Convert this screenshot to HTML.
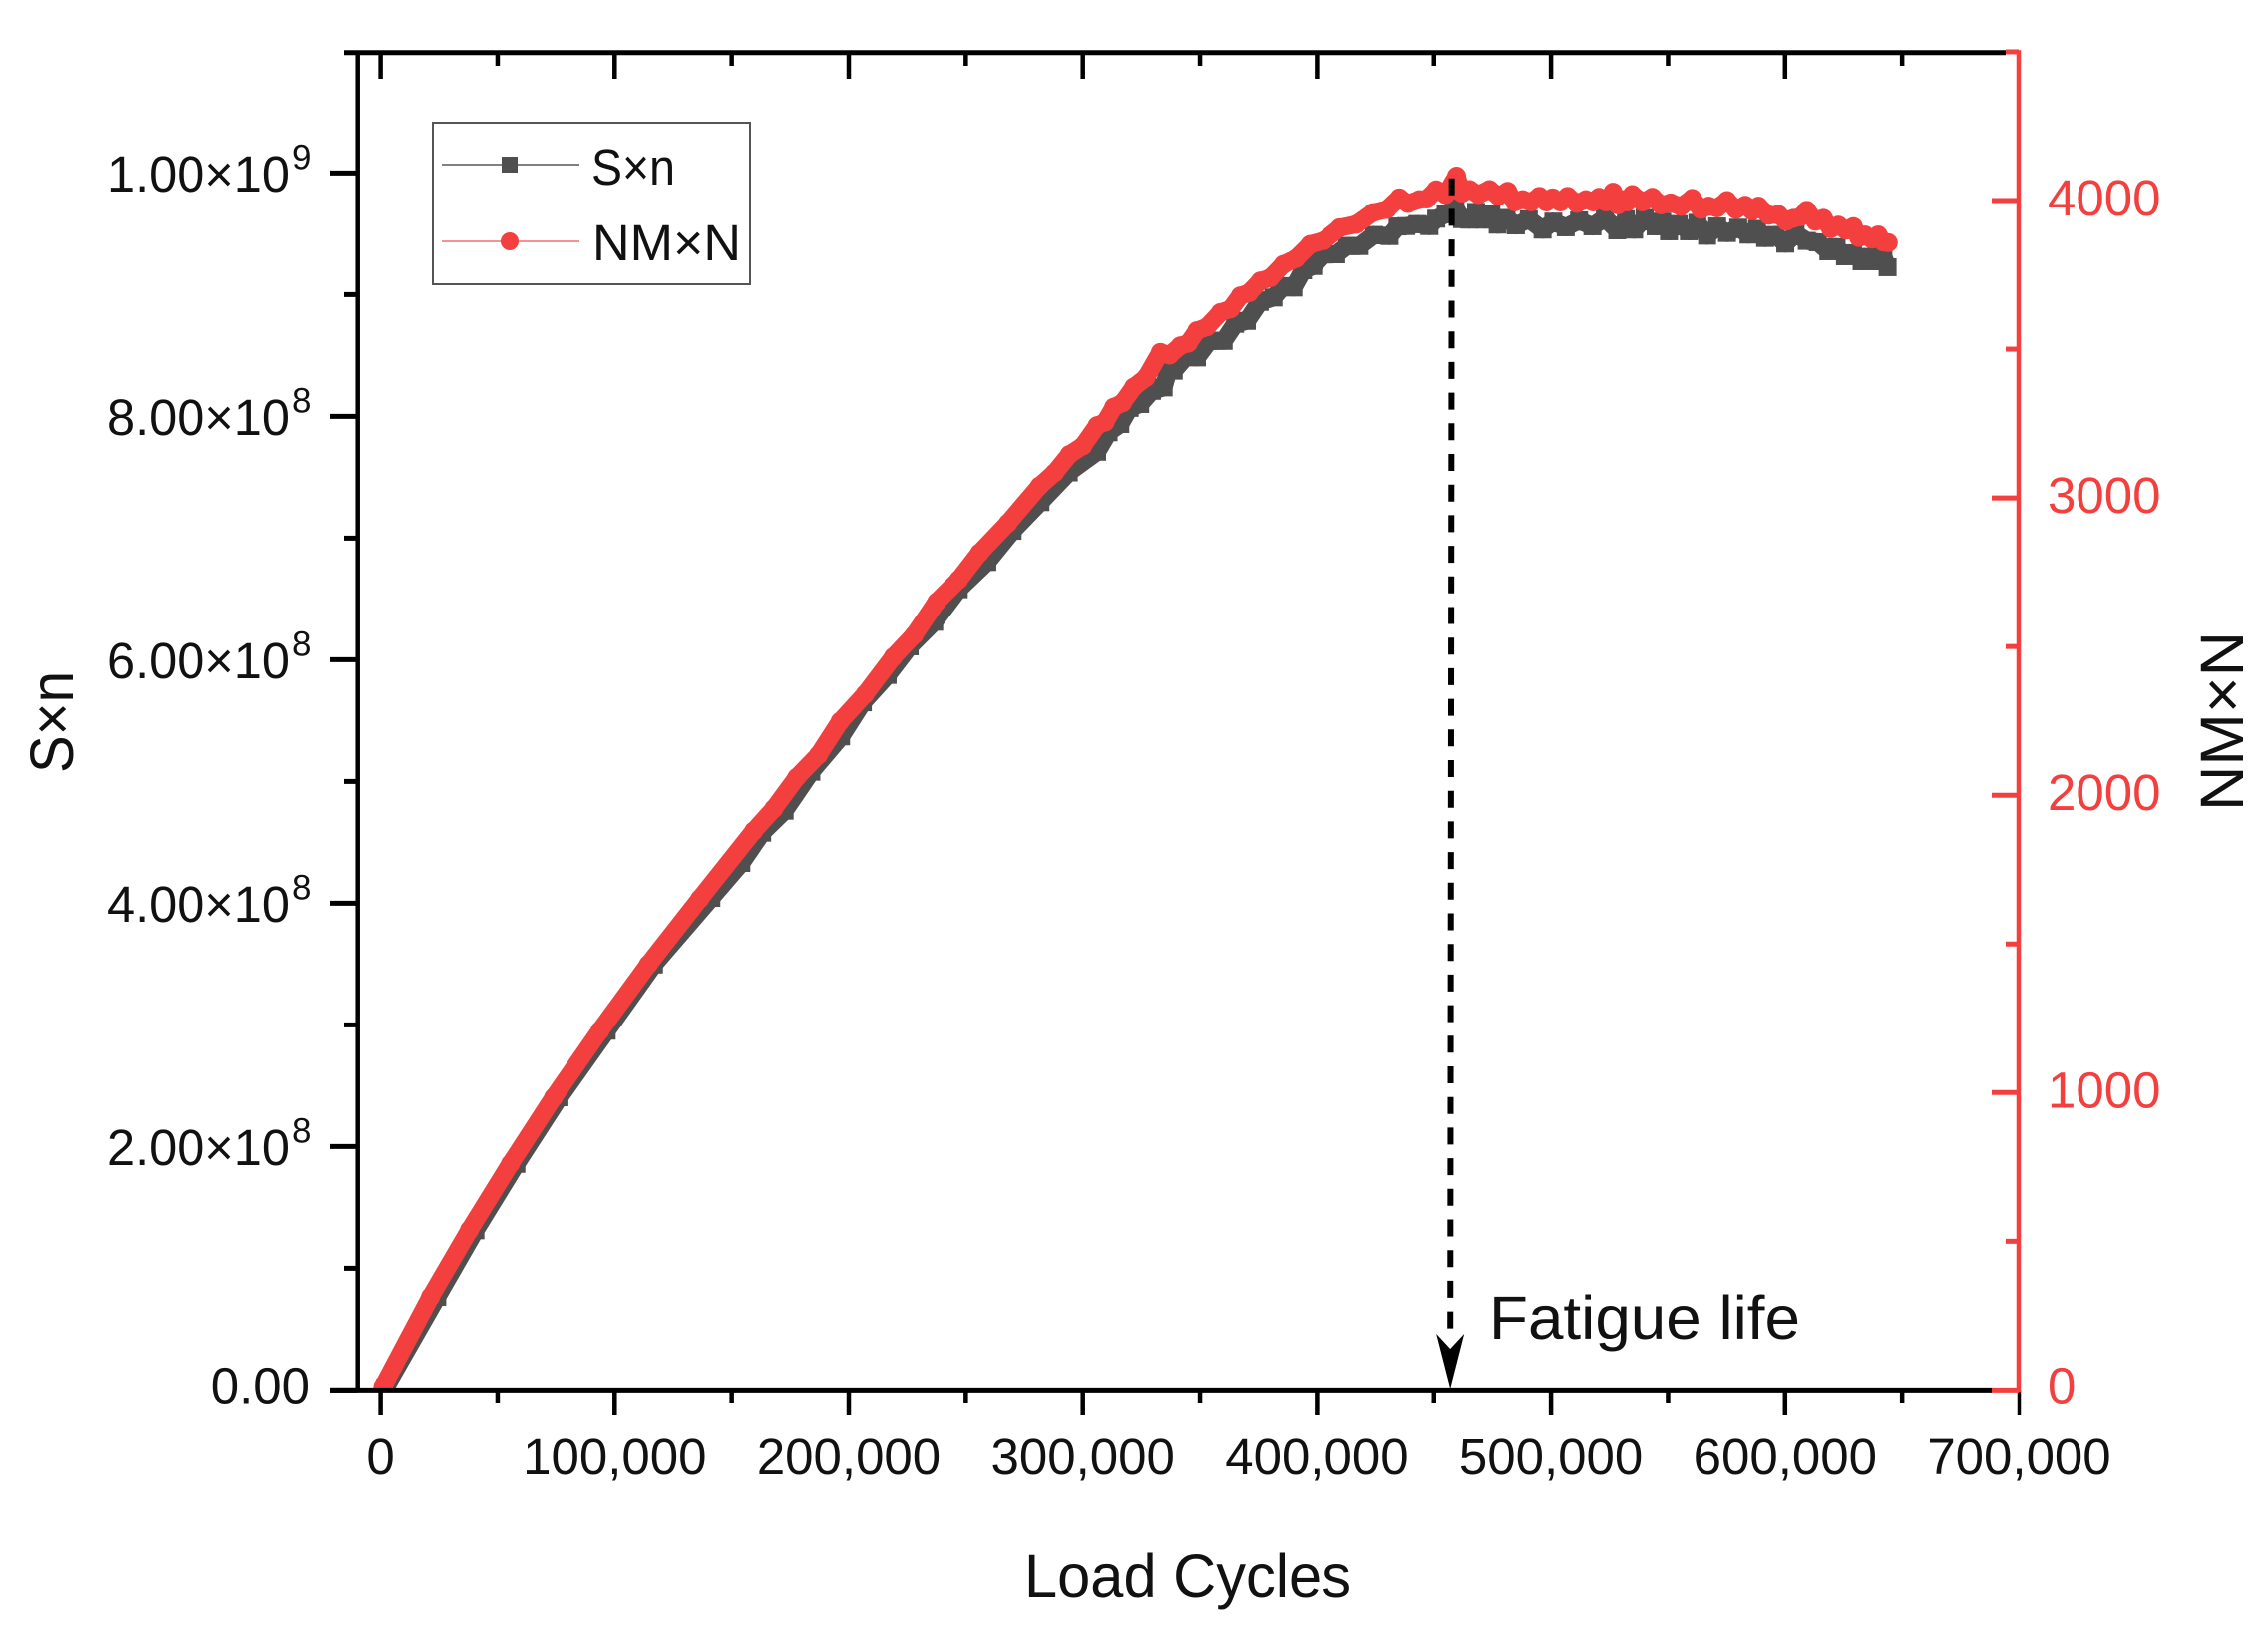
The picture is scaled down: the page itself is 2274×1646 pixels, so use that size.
<!DOCTYPE html>
<html lang="en">
<head>
<meta charset="utf-8">
<title>S×n and NM×N versus Load Cycles</title>
<style>
html,body{margin:0;padding:0;background:#fff;width:2274px;height:1646px;overflow:hidden}
svg{display:block}
text{font-family:"Liberation Sans",sans-serif;fill:#111}
</style>
</head>
<body>
<svg id="chart" xmlns="http://www.w3.org/2000/svg" width="2274" height="1646" viewBox="0 0 2274 1646">
  <defs>
    <clipPath id="plot-clip"><rect x="340" y="40" width="1700" height="1353"></rect></clipPath>
  </defs>
  <rect x="0" y="0" width="2274" height="1646" fill="#fff"></rect>
  <g id="series" clip-path="url(#plot-clip)"></g>
  <g id="annotation"></g>
  <g id="axes"></g>
  <g>
    <rect x="434" y="123" width="318" height="162" fill="#fff" stroke="#555" stroke-width="2"></rect>
    <line x1="443" x2="581" y1="165" y2="165" stroke="#808080" stroke-width="2"></line>
    <rect x="503" y="157" width="16" height="16" fill="#4f4f4f"></rect>
    <text x="593" y="185" font-size="51" textLength="84" lengthAdjust="spacingAndGlyphs">S×n</text>
    <line x1="443" x2="581" y1="242" y2="242" stroke="#f79090" stroke-width="2"></line>
    <circle cx="511" cy="242" r="9" fill="#f43f3f"></circle>
    <text x="594" y="261" font-size="51" textLength="149" lengthAdjust="spacingAndGlyphs">NM×N</text>
  </g>
  <text x="1027" y="1601" font-size="61" textLength="328" lengthAdjust="spacingAndGlyphs">Load Cycles</text>
  <text transform="translate(73,775) rotate(-90)" font-size="61" textLength="102" lengthAdjust="spacingAndGlyphs">S×n</text>
  <text transform="translate(2249,813) rotate(-90)" font-size="61" textLength="180" lengthAdjust="spacingAndGlyphs">NM×N</text>
  <text x="1493" y="1342" font-size="61" textLength="312" lengthAdjust="spacingAndGlyphs">Fatigue life</text>
</svg>
<script>
// ---- data ----
const sxnCycles = [2000,24200,40500,58000,76400,96600,116800,141300,154100,163000,172600,184000,196700,206000,216600,226000,236500,247000,259200,270000,281900,294000,306100,311000,316000,320000,324500,329500,334500,336500,338800,344000,348700,354000,360100,365000,370000,375500,381400,385500,389900,394000,398400,403000,408300,413000,418300,424500,431100,434500,438200,443000,448100,451000,455000,459200,462000,465200,468000,471600,474500,477200,481000,485000,490500,496400,501000,506300,512000,517700,523000,528300,532000,535500,540000,544700,547500,550400,554500,558900,562500,566700,571000,575200,580000,584400,588000,591500,596000,600100,604500,609300,614000,618500,622000,625600,629000,632700,636000,639800,642000,643800];
const sxnValues = [0.02e8,0.766e8,1.312e8,1.858e8,2.405e8,2.952e8,3.497e8,4.044e8,4.331e8,4.58e8,4.76e8,5.08e8,5.37e8,5.65e8,5.875e8,6.11e8,6.312e8,6.58e8,6.804e8,7.06e8,7.296e8,7.54e8,7.71e8,7.87e8,7.938e8,8.07e8,8.102e8,8.21e8,8.238e8,8.38e8,8.375e8,8.49e8,8.484e8,8.62e8,8.62e8,8.76e8,8.784e8,8.94e8,8.976e8,9.07e8,9.058e8,9.2e8,9.235e8,9.33e8,9.331e8,9.4e8,9.399e8,9.49e8,9.481e8,9.56e8,9.563e8,9.58e8,9.563e8,9.624e8,9.66e8,9.714e8,9.62e8,9.616e8,9.68e8,9.616e8,9.66e8,9.575e8,9.63e8,9.569e8,9.62e8,9.534e8,9.6e8,9.553e8,9.61e8,9.561e8,9.63e8,9.528e8,9.62e8,9.534e8,9.63e8,9.561e8,9.6e8,9.52e8,9.58e8,9.52e8,9.59e8,9.484e8,9.56e8,9.506e8,9.55e8,9.493e8,9.54e8,9.465e8,9.49e8,9.419e8,9.5e8,9.441e8,9.43e8,9.356e8,9.39e8,9.315e8,9.34e8,9.274e8,9.31e8,9.274e8,9.31e8,9.225e8];
const nmCycles = [1000,21300,37960,55430,73900,93800,114400,136400,159400,168000,177800,187000,196300,207000,219000,228000,237500,247000,255900,268000,281500,288000,294300,300000,306100,309500,313200,317000,321700,327000,333100,337000,341600,345000,348700,353000,358700,363000,367200,371000,375700,380000,385600,391000,397000,403000,409800,417000,424000,430000,435300,439000,443800,447000,451000,455000,459700,462000,465200,469000,473700,477500,481500,484500,487900,491500,495000,498000,500700,504000,507100,511000,514900,518000,520500,523500,526500,528500,530500,532500,534700,539000,543300,547000,551100,555500,560300,564000,567400,571000,575200,579000,583000,586000,588700,593000,597200,600500,603600,606500,609300,613000,616400,619500,622800,626000,629200,631500,634100,637000,639800,642000,644100];
const nmValues = [11,313,538,760,984,1209,1431,1652,1880,1955,2060,2135,2248,2340,2465,2540,2650,2725,2815,2915,3040,3085,3146,3175,3243,3255,3305,3320,3372,3405,3489,3480,3511,3520,3562,3575,3623,3635,3679,3690,3729,3740,3785,3805,3852,3865,3908,3920,3959,3970,4009,3990,4003,4005,4036,4020,4082,4025,4037,4020,4037,4015,4031,3995,4003,3995,4014,3995,4009,3995,4014,3990,4003,3995,4011,3995,4028,3985,4003,3995,4020,3995,4011,3985,3992,3980,4007,3970,3981,3975,4000,3970,3984,3965,3981,3950,3953,3930,3940,3945,3967,3930,3940,3905,3917,3900,3912,3875,3884,3870,3884,3860,3858];

const xMajorTicks = [0,100000,200000,300000,400000,500000,600000,700000];
const xMinorTicks = [50000,150000,250000,350000,450000,550000,650000];
const xTickLabels = ['0','100,000','200,000','300,000','400,000','500,000','600,000','700,000'];
const leftMajorTicks = [0,2e8,4e8,6e8,8e8,1e9];
const leftMinorTicks = [1e8,3e8,5e8,7e8,9e8];
const leftTickMantissas = ['0.00','2.00','4.00','6.00','8.00','1.00'];
const leftTickExponents = ['','8','8','8','8','9'];
const rightMajorTicks = [0,1000,2000,3000,4000];
const rightMinorTicks = [500,1500,2500,3500,4500];
const rightTickLabels = ['0','1000','2000','3000','4000'];
const fatigueLifeCycles = 457000;

// ---- axis functions ----
const xAxis = v => 381.6 + v * 234.7 / 100000;
const leftAxis = v => 1393.4 - v * 244 / 2e8;
const rightAxis = v => 1393.4 - v * 0.2981;

const NS = 'http://www.w3.org/2000/svg';
const RED = '#f43f3f';
const GRAY = '#4f4f4f';
const BLACK = '#000';
const seriesLayer = document.getElementById('series');
const annotationLayer = document.getElementById('annotation');
const axesLayer = document.getElementById('axes');

function mk(tag, attrs, parent) {
  const el = document.createElementNS(NS, tag);
  for (const k in attrs) el.setAttribute(k, attrs[k]);
  parent.appendChild(el);
  return el;
}

// ---- series ----
function pointsOf(xs, ys, yAxis) {
  return xs.map((c, i) => xAxis(c).toFixed(1) + ',' + yAxis(ys[i]).toFixed(1)).join(' ');
}

const sxnLine = mk('polyline', {points: pointsOf(sxnCycles, sxnValues, leftAxis), fill: 'none', stroke: GRAY, 'stroke-width': 18, 'stroke-linejoin': 'round'}, seriesLayer);


sxnCycles.forEach((c, i) => {
  const m = mk('rect', {x: xAxis(c) - 9, y: leftAxis(sxnValues[i]) - 9, width: 18, height: 18, fill: GRAY}, seriesLayer);
  
  
});

const nmLine = mk('polyline', {points: pointsOf(nmCycles, nmValues, rightAxis), fill: 'none', stroke: RED, 'stroke-width': 18, 'stroke-linejoin': 'round'}, seriesLayer);


nmCycles.forEach((c, i) => {
  const m = mk('circle', {cx: xAxis(c), cy: rightAxis(nmValues[i]), r: 9.5, fill: RED}, seriesLayer);
  
  
});

// ---- fatigue-life arrow ----
const fx = xAxis(fatigueLifeCycles);
const dash = mk('line', {x1: fx + 1.5, y1: 178.7, x2: fx, y2: 1342, stroke: BLACK, 'stroke-width': 6, 'stroke-dasharray': '17 13.7'}, annotationLayer);


const head = mk('polygon', {points: [[fx, 1392], [fx - 14, 1337], [fx, 1352], [fx + 14, 1337]].map(p => p.join(',')).join(' '), fill: BLACK}, annotationLayer);



// ---- axes ----
const TOP = 52.7, BOTTOM = 1393.4, LEFT = 358.7, RIGHT = 2024;

function segment(x1, y1, x2, y2, color, w) {
  return mk('line', {x1, y1, x2, y2, stroke: color, 'stroke-width': w}, axesLayer);
}
function label(str, x, y, size, anchor, color) {
  const t = mk('text', {x, y, 'font-size': size, 'text-anchor': anchor}, axesLayer);
  if (color) t.style.fill = color;
  t.textContent = str;
  return t;
}

const leftSpine = segment(LEFT, TOP - 2, LEFT, BOTTOM + 2, BLACK, 4.5);


const topSpine = segment(345, TOP, 2011, TOP, BLACK, 5);


const bottomSpine = segment(331, BOTTOM, 1997, BOTTOM, BLACK, 5);



xMajorTicks.forEach((v, i) => {
  const bt = segment(xAxis(v), BOTTOM, xAxis(v), 1418, BLACK, i === 7 ? 3.5 : 4.5);
  
  
  if (i < 7) {
    const tt = segment(xAxis(v), TOP, xAxis(v), 79, BLACK, 4.5);
    
    
  }
  const lb = label(xTickLabels[i], xAxis(v), 1478, 51, 'middle');
  
  
});
xMinorTicks.forEach(v => {
  const bt = segment(xAxis(v), BOTTOM, xAxis(v), 1406, BLACK, 4.5);
  
  
  const tt = segment(xAxis(v), TOP, xAxis(v), 66, BLACK, 4.5);
  
  
});

leftMajorTicks.forEach((v, i) => {
  const t = segment(331, leftAxis(v), LEFT, leftAxis(v), BLACK, 5);
  
  
  if (leftTickExponents[i]) {
    const m = label(leftTickMantissas[i] + '×10', 291, leftAxis(v) + 18.5, 51, 'end');
    m.setAttribute('textLength', '184');
    m.setAttribute('lengthAdjust', 'spacingAndGlyphs');
    
    
    const e = label(leftTickExponents[i], 293, leftAxis(v) - 4, 35, 'start');
    
    
  } else {
    const m = label(leftTickMantissas[i], 311, leftAxis(v) + 13, 51, 'end');
    
    
  }
});
leftMinorTicks.forEach(v => {
  const t = segment(345, leftAxis(v), LEFT, leftAxis(v), BLACK, 5);
  
  
});

const rightSpine = segment(RIGHT, TOP - 2.5, RIGHT, BOTTOM + 2, RED, 4.5);


rightMajorTicks.forEach((v, i) => {
  const t = segment(1997, rightAxis(v), RIGHT, rightAxis(v), RED, 5);
  
  
  const lb = label(rightTickLabels[i], 2053, rightAxis(v) + (i === 0 ? 13 : 15), 51, 'start', RED);
  
  
});
rightMinorTicks.forEach(v => {
  const t = segment(2011, rightAxis(v), RIGHT, rightAxis(v), RED, 5);
  
  
});
</script>
</body>
</html>
